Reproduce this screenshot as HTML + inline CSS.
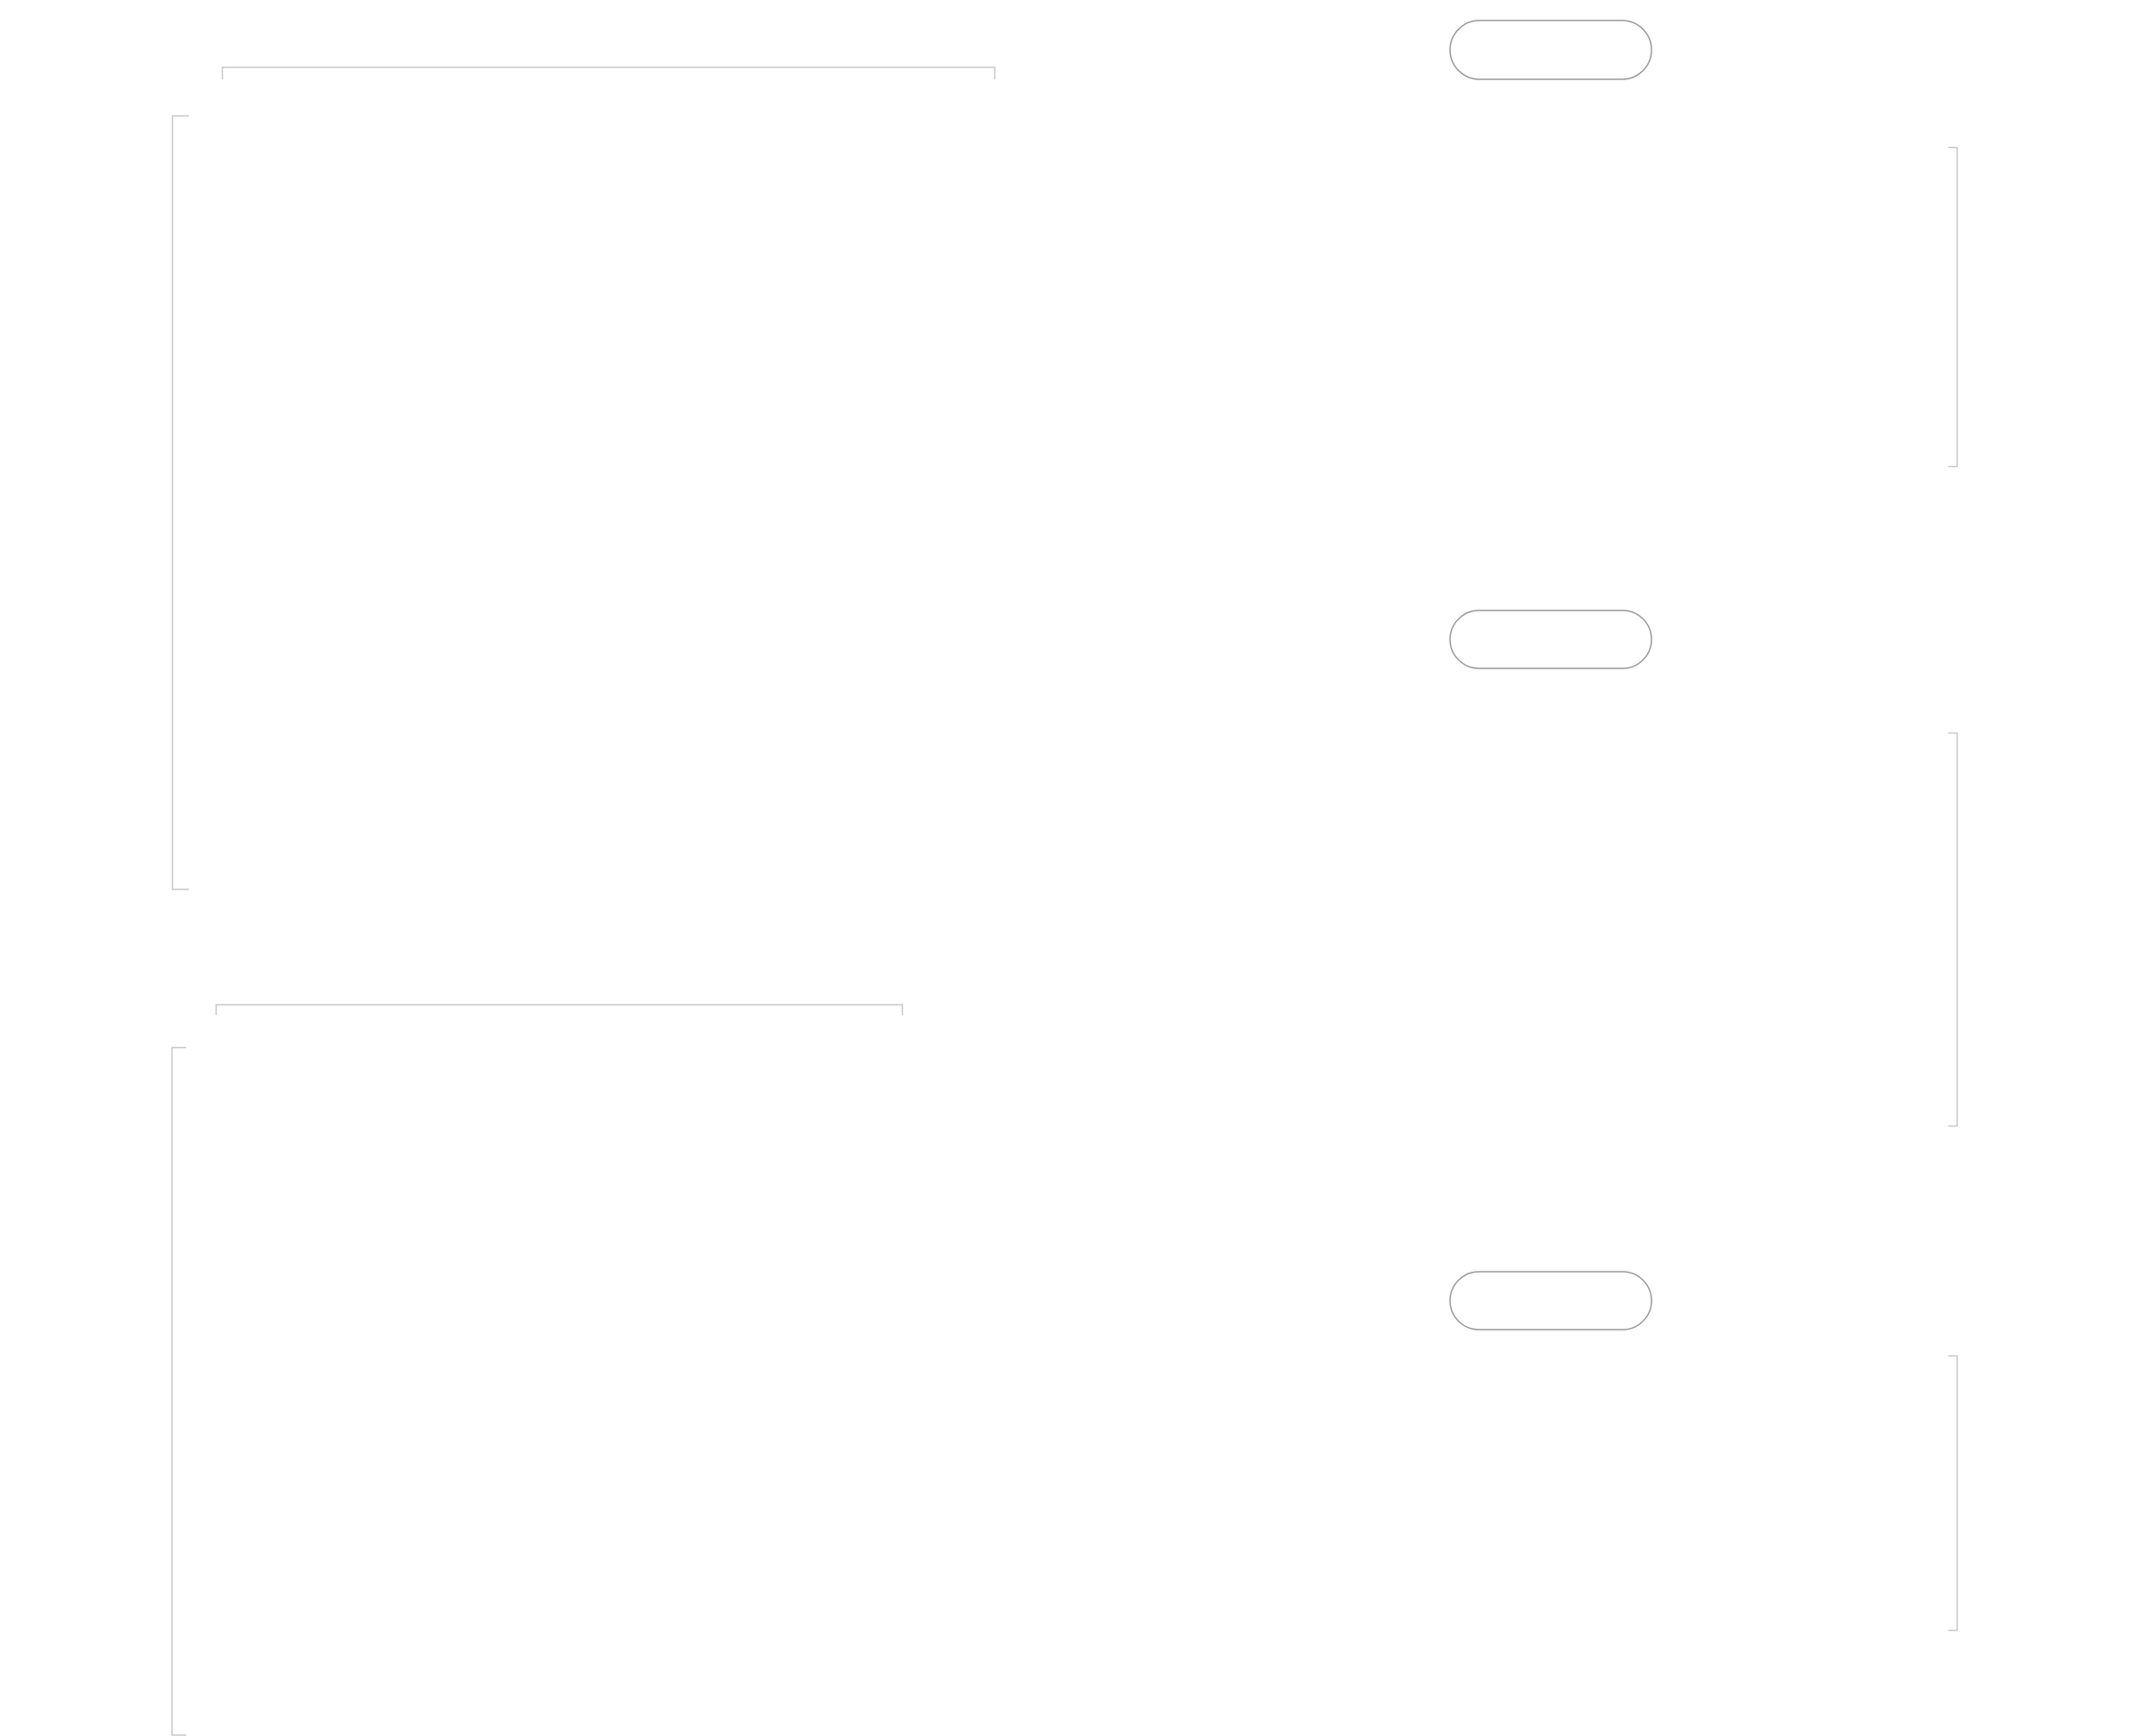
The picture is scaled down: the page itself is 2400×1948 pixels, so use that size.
<!DOCTYPE html>
<html><head><meta charset="utf-8"><style>html,body{margin:0;padding:0;background:#fff;}svg{display:block}</style></head>
<body>
<svg width="2400" height="1948" viewBox="0 0 2400 1948" xmlns="http://www.w3.org/2000/svg">
<rect width="2400" height="1948" fill="#fff"/>
<g fill="none" stroke="#c8c8c8" stroke-width="1.5">
<path d="M249.5 89 V75.5 H1116 V89"/>
<path d="M212 130 H193.5 V998 H212"/>
<path d="M242.5 1139 V1127.5 H1012.5 V1139"/>
<path d="M209 1175.5 H193 V1947 H209"/>
<path d="M2186 165.5 H2196 V523.5 H2186"/>
<path d="M2186 822.5 H2196 V1263.5 H2186"/>
<path d="M2186 1521.5 H2196 V1829.5 H2186"/>
</g>
<g fill="#fff" stroke="#999" stroke-width="1.5">
<rect x="1627" y="23" width="226" height="66" rx="33" ry="33"/>
<rect x="1627" y="685" width="226" height="65" rx="32.5" ry="32.5"/>
<rect x="1627" y="1427" width="226" height="65" rx="32.5" ry="32.5"/>
</g>
</svg>
</body></html>
